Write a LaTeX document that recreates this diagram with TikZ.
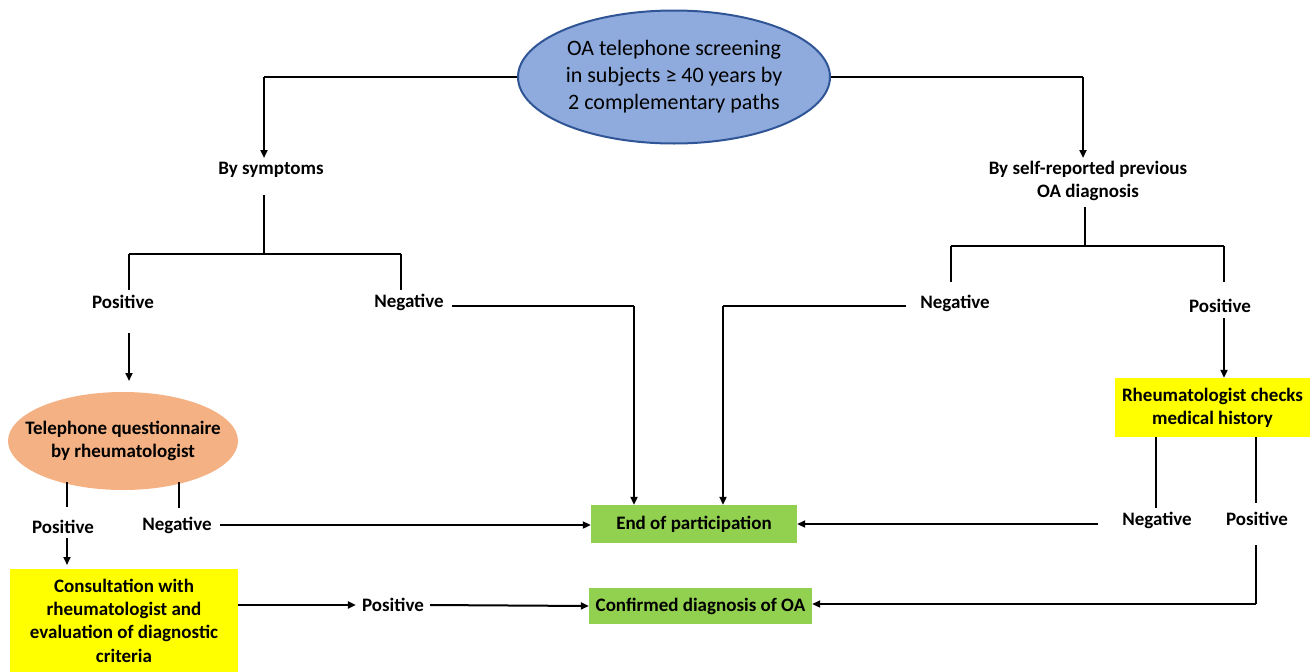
\documentclass[tikz,border=0pt]{standalone}
\usepackage{fontspec}
\setmainfont{Carlito}
\usetikzlibrary{shapes.geometric,arrows.meta,calc}
\definecolor{topblue}{HTML}{8FAADC}
\definecolor{topline}{HTML}{2F5597}
\definecolor{orng}{HTML}{F4B183}
\definecolor{grn}{HTML}{92D050}
\definecolor{yel}{HTML}{FFFF00}
\begin{document}
\begin{tikzpicture}[x=1pt,y=-1pt,
  lbl/.style={font=\fontsize{19}{23.3}\selectfont\bfseries, align=center, inner sep=0pt},
  thinl/.style={line width=1.3pt},
  thickl/.style={line width=2.4pt},
  arr/.style={line width=2pt,-{Triangle[length=8pt,width=7pt]}},
  greenbox/.style={lbl, fill=grn},
  yelbox/.style={lbl, fill=yel}
]
\useasboundingbox (0,0) rectangle (1312,672);
% nodes
\node[ellipse, draw=topline, line width=2pt, fill=topblue, minimum width=312pt, minimum height=133pt, inner sep=0pt, align=center, font=\fontsize{22}{27}\selectfont] (top) at (674,77) {OA telephone screening\\in subjects ≥ 40 years by\\2 complementary paths};
\node[lbl] (sym) at (271,170) {By symptoms};
\node[lbl] (self) at (1088,181) {By self-reported previous\\OA diagnosis};
\node[lbl] (pos1) at (123,302) {Positive};
\node[lbl] (neg1) at (409,302) {Negative};
\node[lbl, ellipse, fill=orng, inner xsep=-22pt, inner ysep=0pt, minimum width=230pt, minimum height=98pt] (tq) at (123,441) {Telephone questionnaire\\by rheumatologist};
\node[lbl] (pos2) at (63,527) {Positive};
\node[lbl] (neg2) at (177,525) {Negative};
\node[yelbox, minimum width=228pt, minimum height=103pt] (cons) at (124,620.5) {Consultation with\\rheumatologist and\\evaluation of diagnostic\\criteria};
\node[lbl] (pos3) at (393,605) {Positive};
\node[greenbox, minimum width=206pt, minimum height=38pt] (end) at (694,524) {End of participation};
\node[greenbox, minimum width=223pt, minimum height=36pt] (conf) at (700.5,606) {Confirmed diagnosis of OA};
\node[lbl] (neg3) at (955,303) {Negative};
\node[lbl] (pos4) at (1220,306) {Positive};
\node[yelbox, minimum width=195pt, minimum height=59pt] (rheum) at (1212.5,407.5) {Rheumatologist checks\\medical history};
\node[lbl] (neg4) at (1157,520) {Negative};
\node[lbl] (pos5) at (1257,519) {Positive};
% coordinates
\coordinate (symIn) at (264,158);
\coordinate (selfIn) at (1083,158);
\coordinate (sA) at (264,195);
\coordinate (sB) at (264,254);
\coordinate (sL) at (129,254);
\coordinate (sR) at (401,254);
\coordinate (sLd) at (129,290);
\coordinate (sRd) at (401,290);
\coordinate (rA) at (1085,207);
\coordinate (rB) at (1085,246);
\coordinate (rL) at (951,246);
\coordinate (rR) at (1224,246);
\coordinate (rLd) at (951,282);
\coordinate (rRd) at (1224,282);
\coordinate (p1a) at (129,333);
\coordinate (p1b) at (129,381);
\coordinate (tqL) at (67,482);
\coordinate (tqLd) at (67,507);
\coordinate (tqR) at (179,482);
\coordinate (tqRd) at (179,508);
\coordinate (p2a) at (67,538);
\coordinate (p2b) at (67,565);
\coordinate (n1a) at (452,306);
\coordinate (n1b) at (634,306);
\coordinate (n3a) at (906,306);
\coordinate (n3b) at (723,306);
\coordinate (p4a) at (1224,318);
\coordinate (rhL) at (1156,437);
\coordinate (rhLd) at (1156,508);
\coordinate (rhR) at (1256,437);
\coordinate (rhRd) at (1256,503);
\coordinate (n4a) at (1098,524);
\coordinate (p5a) at (1256,545);
\coordinate (p5b) at (1256,604);
% connectors
\draw[thinl] (top.west) -- (top.west -| symIn);
\draw[arr] (top.west -| symIn) -- (symIn);
\draw[thinl] (top.east) -- (top.east -| selfIn);
\draw[arr] (top.east -| selfIn) -- (selfIn);
\draw[thinl] (sA) -- (sB);
\draw[thinl] (sL) -- (sR);
\draw[thinl] (sL) -- (sLd);
\draw[thickl] (sR) -- (sRd);
\draw[thinl] (rA) -- (rB);
\draw[thinl] (rL) -- (rB);
\draw[thickl] (rB) -- (rR);
\draw[thinl] (rL) -- (rLd);
\draw[thinl] (rR) -- (rRd);
\draw[arr] (p1a) -- (p1b);
\draw[thinl] (tqL) -- (tqLd);
\draw[thinl] (tqR) -- (tqRd);
\draw[arr] (p2a) -- (p2b);
\draw[arr] (neg2.east) ++(8,0) -- (neg2.east -| end.west);
\draw[thinl] (n1a) -- (n1b);
\draw[arr] (n1b) -- (n1b |- end.north);
\draw[thinl] (n3a) -- (n3b);
\draw[arr] (n3b) -- (n3b |- end.north);
\draw[arr] (p4a) -- (p4a |- rheum.north);
\draw[thinl] (rhL) -- (rhLd);
\draw[thinl] (rhR) -- (rhRd);
\draw[arr] (n4a) -- (end.east);
\draw[thinl] (p5a) -- (p5b);
\draw[arr] (p5b) -- (p5b -| conf.east);
\draw[arr] (cons.east |- pos3) -- ([xshift=-6pt]pos3.west);
\draw[arr] ([xshift=6pt]pos3.east) -- (conf.west);
\end{tikzpicture}
\end{document}
